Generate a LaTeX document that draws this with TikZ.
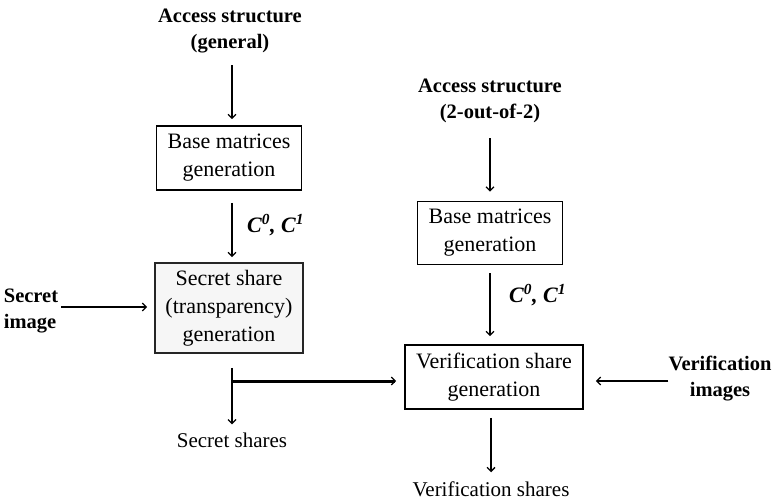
\documentclass[tikz,border=0pt]{standalone}
\usepackage{fontspec}
\setmainfont{Liberation Serif}
\usetikzlibrary{arrows.meta,calc}
\begin{document}
\begin{tikzpicture}[x=1pt,y=-1pt,
  box/.style={draw,line width=1.6pt,inner sep=0pt,align=center,font=\fontsize{22}{28}\selectfont},
  btxt/.style={align=center,font=\bfseries\fontsize{20.5}{26}\selectfont,inner sep=0pt},
  ptxt/.style={align=center,font=\fontsize{21}{26}\selectfont,inner sep=0pt},
  ctxt/.style={font=\bfseries\itshape\fontsize{22}{26}\selectfont,inner sep=0pt},
  arr/.style={line width=1.3pt,-{Straight Barb[length=4pt,width=8pt]}},
  thickarr/.style={line width=3pt,-{Straight Barb[length=4pt,width=8pt,line width=1.3pt]}},
]
\useasboundingbox (0,0) rectangle (775,501);
% x positions of connectors
\coordinate (xl) at (232,0);
\coordinate (xr) at (490,0);
\coordinate (xv) at (491,0);
\coordinate (ys) at (0,307);
\coordinate (yv) at (0,381);
% nodes
\node[btxt] (as1) at (230,31) {Access structure\\(general)};
\node[box, minimum width=145pt, minimum height=64pt] (b1) at (229,158) {Base matrices\\generation};
\node[box, fill=gray!7, draw=black!85, minimum width=148pt, minimum height=90pt] (b2) at (229,308) {Secret share\\(transparency)\\generation};
\node[btxt, align=left] (si) at (31,311) {Secret\\image};
\node[ptxt] (ss) at (232,440) {Secret shares};
\node[btxt] (as2) at (490,101) {Access structure\\(2-out-of-2)};
\node[box, minimum width=145pt, minimum height=63pt] (b3) at (490,233) {Base matrices\\generation};
\node[box, minimum width=178pt, minimum height=64pt] (b4) at (494,377) {Verification share\\generation};
\node[btxt] (vi) at (720,379) {Verification\\images};
\node[ptxt] (vs) at (491,489) {Verification shares};
\node[ctxt, anchor=west] (c1) at (247,225) {C\textsuperscript{0}, C\textsuperscript{1}};
\node[ctxt, anchor=west] (c2) at (509,295) {C\textsuperscript{0}, C\textsuperscript{1}};
\coordinate (j) at (232,381);
% connectors
\draw[arr, shorten <=12pt, shorten >=6pt] (as1.south -| xl) -- (b1.north -| xl);
\draw[arr, shorten <=12pt, shorten >=5pt] (b1.south -| xl) -- (b2.north -| xl);
\draw[arr, shorten <=3pt, shorten >=7pt] (si.east |- ys) -- (b2.west |- ys);
\draw[arr, shorten <=14pt, shorten >=8pt] (b2.south -| xl) -- (ss.north -| xl);
\draw[thickarr, shorten >=8pt] (j) -- (b4.west |- yv);
\draw[arr, shorten <=15pt, shorten >=9pt] (as2.south -| xr) -- (b3.north -| xr);
\draw[arr, shorten <=8pt, shorten >=8pt] (b3.south -| xr) -- (b4.north -| xr);
\draw[arr, shorten <=8pt, shorten >=9pt] (b4.south -| xv) -- (vs.north -| xv);
\draw[arr, shorten >=12pt] (vi.west |- yv) -- (b4.east |- yv);
\end{tikzpicture}
\end{document}
